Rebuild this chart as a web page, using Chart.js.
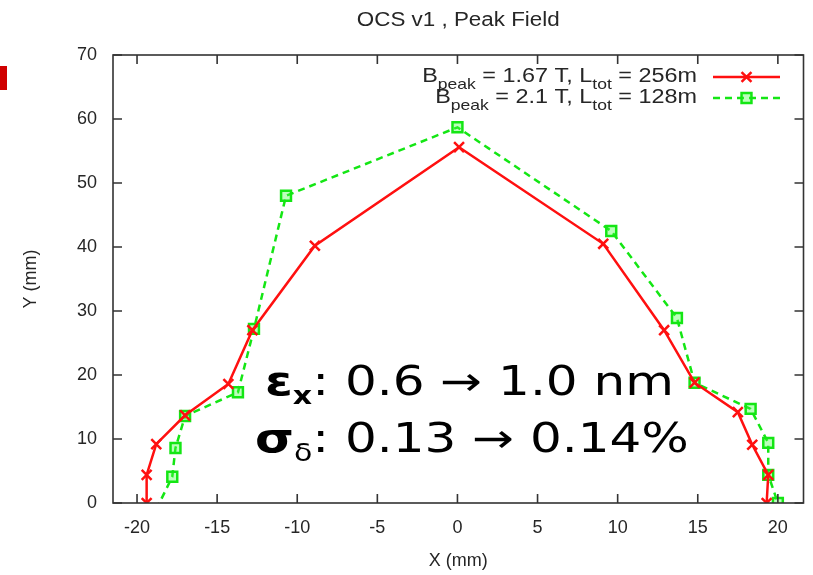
<!DOCTYPE html>
<html>
<head>
<meta charset="utf-8">
<script src="https://cdn.jsdelivr.net/npm/chart.js@4"></script>
<style>
  html, body { margin: 0; padding: 0; background: #fff; }
  #wrap { position: relative; width: 813px; height: 575px; }
</style>
</head>
<body>
<div id="wrap"><canvas id="c"></canvas></div>
<script>
// ---- chart text ----
const chartTitle = 'OCS v1 , Peak Field';
const xTitle = 'X (mm)';
const yTitle = 'Y (mm)';
const xTickValues = [-20, -15, -10, -5, 0, 5, 10, 15, 20];
const yTickValues = [0, 10, 20, 30, 40, 50, 60, 70];

// ---- aperture outline, B_peak = 1.67 T, L_tot = 256 m ----
const redX = [-19.4, -19.4, -18.8, -17.0, -14.3, -12.8, -8.9, 0.1, 9.1, 12.9, 14.8, 17.5, 18.4, 19.4, 19.3];
const redY = [0.0, 4.4, 9.2, 13.7, 18.6, 27.0, 40.2, 55.6, 40.5, 27.0, 18.8, 14.2, 9.1, 4.4, 0.0];

// ---- aperture outline, B_peak = 2.1 T, L_tot = 128 m ----
const greenX = [-18.8, -17.8, -17.6, -17.0, -13.7, -12.7, -10.7, 0.0, 9.6, 13.7, 14.8, 18.3, 19.4, 19.4, 20.0];
const greenY = [-1.0, 4.1, 8.6, 13.6, 17.3, 27.2, 48.0, 58.7, 42.5, 28.9, 18.8, 14.7, 9.4, 4.4, 0.0];

// legend entries: [text, subscript?] pieces
const legendRed = [['B', false], ['peak', true], [' = 1.67 T, L', false], ['tot', true], [' = 256m', false]];
const legendGreen = [['B', false], ['peak', true], [' = 2.1 T, L', false], ['tot', true], [' = 128m', false]];

// annotation lines: [text, bold, subscript]
const noteLine1 = [['ε', true, false], ['x', true, true], [': 0.6 → 1.0 nm', false, false]];
const noteLine2 = [['σ', true, false], ['δ', false, true], [': 0.13 → 0.14%', false, false]];

const RED = '#ff1010';
const GREEN = '#14e614';
const INK = '#262626';
const GP_FONT = '"Liberation Sans", Arial, sans-serif';
const NOTE_FONT = '"DejaVu Sans", Verdana, sans-serif';

function toPoints(xs, ys) { return xs.map((x, i) => ({ x: x, y: ys[i] })); }

// draws a run of text pieces with subscripts, starting at x on baseline y
function drawPieces(ctx, pieces, x, y, mainFont, subFont, subDy, color) {
  ctx.fillStyle = color;
  ctx.textBaseline = 'alphabetic';
  ctx.textAlign = 'left';
  let cx = x;
  for (const [t, sub] of pieces) {
    ctx.font = sub ? subFont : mainFont;
    ctx.fillText(t, cx, y + (sub ? subDy : 0));
    cx += ctx.measureText(t).width;
  }
}
function piecesWidth(ctx, pieces, mainFont, subFont) {
  let w = 0;
  for (const [t, sub] of pieces) { ctx.font = sub ? subFont : mainFont; w += ctx.measureText(t).width; }
  return w;
}

const decorPlugin = {
  id: 'decor',
  beforeDraw(chart) {
    const ctx = chart.ctx;
    const a = chart.chartArea;
    ctx.save();
    // slide accent block on the left edge
    ctx.fillStyle = '#d00000';
    ctx.fillRect(0, 66, 7, 24);

    // title (slightly widened like the rest of the plot text)
    ctx.fillStyle = INK;
    ctx.font = '20px ' + GP_FONT;
    ctx.textAlign = 'center';
    ctx.textBaseline = 'alphabetic';
    ctx.save();
    ctx.translate((a.left + a.right) / 2, 26);
    ctx.scale(1.12, 1);
    ctx.fillText(chartTitle, 0, 0);
    ctx.restore();

    // axis titles
    ctx.font = '18px ' + GP_FONT;
    ctx.textBaseline = 'middle';
    ctx.fillText(xTitle, (a.left + a.right) / 2, 561);
    ctx.translate(31, (a.top + a.bottom) / 2);
    ctx.rotate(-Math.PI / 2);
    ctx.fillText(yTitle, 0, 0);
    ctx.restore();
  },
  afterDatasetsDraw(chart) {
    const ctx = chart.ctx;
    const a = chart.chartArea;
    const xs = chart.scales.x, ys = chart.scales.y;
    ctx.save();
    // border box with inward ticks on all four sides
    ctx.strokeStyle = '#333';
    ctx.lineWidth = 1.6;
    ctx.strokeRect(a.left, a.top, a.right - a.left, a.bottom - a.top);
    const tl = 9;
    ctx.beginPath();
    for (const v of xTickValues) {
      const px = xs.getPixelForValue(v);
      ctx.moveTo(px, a.bottom); ctx.lineTo(px, a.bottom - tl);
      ctx.moveTo(px, a.top); ctx.lineTo(px, a.top + tl);
    }
    for (const v of yTickValues) {
      const py = ys.getPixelForValue(v);
      ctx.moveTo(a.left, py); ctx.lineTo(a.left + tl, py);
      ctx.moveTo(a.right, py); ctx.lineTo(a.right - tl, py);
    }
    ctx.stroke();

    // key, top right
    const mainF = '20px ' + GP_FONT, subF = '15px ' + GP_FONT;
    const sx = 1.17;
    const textRight = 697, lx0 = 713, lx1 = 780, mx = 746.5;
    const rows = [
      { pieces: legendRed, y: 77, color: RED, dash: [], ds: 0 },
      { pieces: legendGreen, y: 98, color: GREEN, dash: [7, 5], ds: 1 }
    ];
    for (const r of rows) {
      const w = piecesWidth(ctx, r.pieces, mainF, subF) * sx;
      ctx.save();
      ctx.translate(textRight - w, r.y + 5);
      ctx.scale(sx, 1);
      drawPieces(ctx, r.pieces, 0, 0, mainF, subF, 7, INK);
      ctx.restore();
      ctx.strokeStyle = r.color;
      ctx.lineWidth = 2.5;
      ctx.setLineDash(r.dash);
      ctx.beginPath(); ctx.moveTo(lx0, r.y); ctx.lineTo(lx1, r.y); ctx.stroke();
      ctx.setLineDash([]);
      const ds = chart.data.datasets[r.ds];
      ctx.fillStyle = ds.pointBackgroundColor;
      ctx.strokeStyle = ds.pointBorderColor;
      ctx.lineWidth = ds.pointBorderWidth;
      Chart.helpers.drawPoint(ctx, {
        pointStyle: ds.pointStyle, radius: ds.pointRadius, borderWidth: ds.pointBorderWidth, rotation: 0
      }, mx, r.y);
    }

    // beam parameter note, drawn slightly widened
    const big = '40px ' + NOTE_FONT;
    const bigB = 'bold 40px ' + NOTE_FONT;
    const small = '24px ' + NOTE_FONT;
    const smallB = 'bold 24px ' + NOTE_FONT;
    const notes = [{ line: noteLine1, x: 265, y: 395 }, { line: noteLine2, x: 255, y: 452 }];
    ctx.fillStyle = '#000';
    ctx.textBaseline = 'alphabetic';
    ctx.textAlign = 'left';
    for (const n of notes) {
      ctx.save();
      ctx.translate(n.x, n.y);
      ctx.scale(1.25, 1);
      let cx = 0;
      for (const [t, bold, sub] of n.line) {
        ctx.font = sub ? (bold ? smallB : small) : (bold ? bigB : big);
        ctx.fillText(t, cx, sub ? 9 : 0);
        cx += ctx.measureText(t).width;
      }
      ctx.restore();
    }
    ctx.restore();
  }
};

const tickFont = { family: '"Liberation Sans", Arial, sans-serif', size: 18 };

new Chart(document.getElementById('c'), {
  type: 'scatter',
  data: {
    datasets: [
      {
        label: 'B_peak = 1.67 T, L_tot = 256m',
        data: toPoints(redX, redY),
        showLine: true,
        borderColor: RED,
        borderWidth: 2.5,
        pointStyle: 'crossRot',
        pointRadius: 7,
        pointBorderWidth: 2.5,
        pointBorderColor: RED,
        pointBackgroundColor: RED
      },
      {
        label: 'B_peak = 2.1 T, L_tot = 128m',
        data: toPoints(greenX, greenY),
        showLine: true,
        borderColor: GREEN,
        borderWidth: 2.5,
        borderDash: [7, 5],
        pointStyle: 'rect',
        pointRadius: 7,
        pointBorderWidth: 2.5,
        pointBorderColor: GREEN,
        pointBackgroundColor: 'rgba(60,255,60,0.35)'
      }
    ]
  },
  options: {
    responsive: true,
    maintainAspectRatio: false,
    animation: false,
    devicePixelRatio: 1,
    layout: { padding: { top: 55, right: 6, left: 0, bottom: 0 } },
    plugins: { legend: { display: false }, title: { display: false }, tooltip: { enabled: false } },
    scales: {
      x: {
        type: 'linear',
        min: -21.5,
        max: 21.6,
        grid: { display: false, drawTicks: false },
        border: { display: false },
        ticks: { stepSize: 5, includeBounds: false, font: tickFont, color: INK, padding: 14, maxRotation: 0 },
        afterFit: s => { s.height = 72; }
      },
      y: {
        type: 'linear',
        min: 0,
        max: 70,
        grid: { display: false, drawTicks: false },
        border: { display: false },
        ticks: { stepSize: 10, includeBounds: false, font: tickFont, color: INK, padding: 16 },
        afterFit: s => { s.width = 113; }
      }
    }
  },
  plugins: [decorPlugin]
});
</script>
</body>
</html>
